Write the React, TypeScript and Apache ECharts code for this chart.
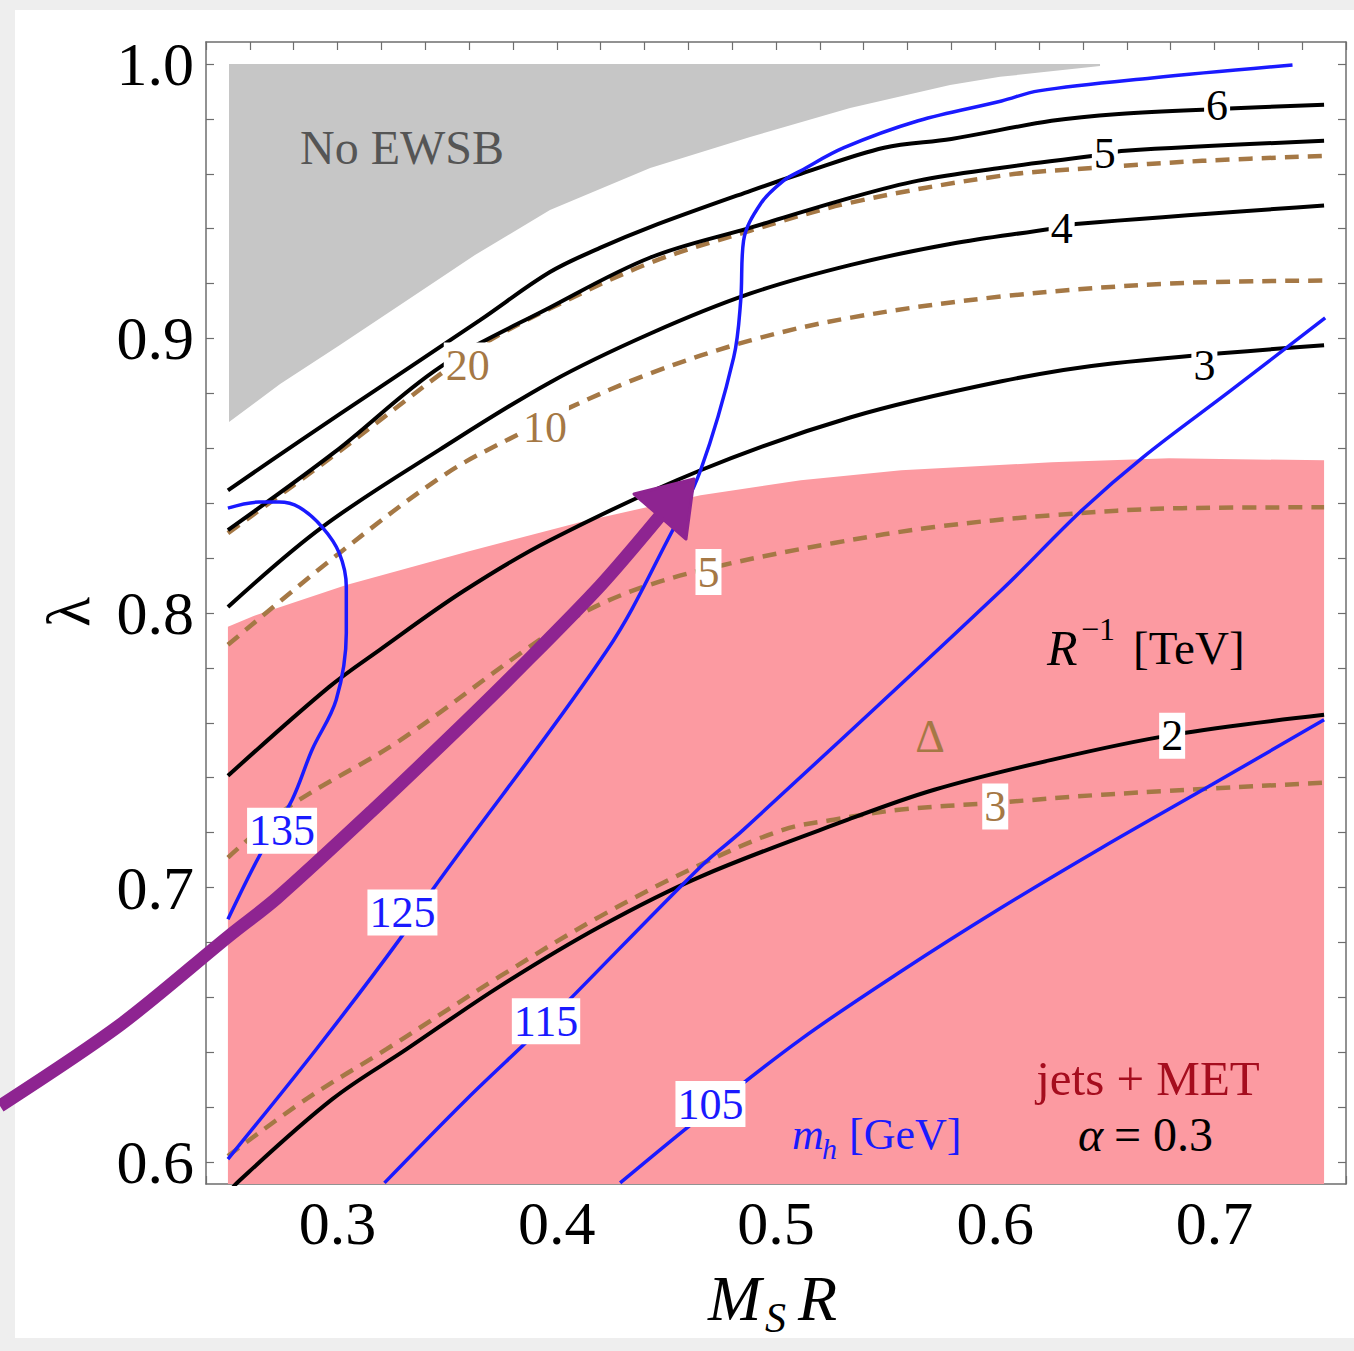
import React, { useEffect, useRef } from "react";
import * as echarts from "echarts";

const FONT = '"Liberation Serif", "Times New Roman", Times, serif';

// Axis ranges and ticks
const X_RANGE = [0.24, 0.76];
const Y_RANGE = [0.592, 1.008];
const X_MAJOR_TICKS = [0.3, 0.4, 0.5, 0.6, 0.7];
const X_MINOR_TICKS = [0.24, 0.26, 0.28, 0.3, 0.32, 0.34, 0.36, 0.38, 0.4, 0.42, 0.44, 0.46, 0.48, 0.5, 0.52, 0.54, 0.56, 0.58, 0.6, 0.62, 0.64, 0.66, 0.68, 0.7, 0.72, 0.74, 0.76];
const Y_MAJOR_TICKS = [0.6, 0.7, 0.8, 0.9, 1.0];
const Y_MINOR_TICKS = [0.6, 0.62, 0.64, 0.66, 0.68, 0.7, 0.72, 0.74, 0.76, 0.78, 0.8, 0.82, 0.84, 0.86, 0.88, 0.9, 0.92, 0.94, 0.96, 0.98, 1.0];

// Regions
const NO_EWSB_EDGE = [[0.2505, 0.8696], [0.2738, 0.8834], [0.3011, 0.8976], [0.3285, 0.9122], [0.3627, 0.9304], [0.3969, 0.9468], [0.4426, 0.9621], [0.4882, 0.9734], [0.5338, 0.984], [0.5794, 0.9923], [0.6022, 0.9953], [0.6478, 0.9993]];
const JETS_MET_EDGE = [[0.25, 0.795], [0.262, 0.799], [0.304, 0.8102], [0.36, 0.8225], [0.4106, 0.8331], [0.4656, 0.8429], [0.5113, 0.8484], [0.5571, 0.852], [0.6257, 0.8549], [0.6793, 0.8564], [0.75, 0.8556]];

// R^-1 [TeV] contours (black)
const R6 = [[0.25, 0.8447], [0.2829, 0.8627], [0.3194, 0.8823], [0.365, 0.9067], [0.3969, 0.9242], [0.4197, 0.933], [0.4426, 0.9406], [0.4884, 0.9538], [0.5113, 0.96], [0.5493, 0.9695], [0.58, 0.9727], [0.6257, 0.9793], [0.6564, 0.9818], [0.7012, 0.9836], [0.75, 0.9851]];
const R5 = [[0.25, 0.8302], [0.2985, 0.8585], [0.3466, 0.8895], [0.3969, 0.9113], [0.4427, 0.9295], [0.4884, 0.9404], [0.5342, 0.9513], [0.5649, 0.9575], [0.6029, 0.9622], [0.6441, 0.9665], [0.6592, 0.9684], [0.75, 0.972]];
const R4 = [[0.25, 0.8022], [0.293, 0.8313], [0.3466, 0.8595], [0.3969, 0.884], [0.4427, 0.9018], [0.4884, 0.9164], [0.5342, 0.9268], [0.58, 0.9345], [0.6257, 0.94], [0.6381, 0.9418], [0.75, 0.9484]];
const R3 = [[0.25, 0.7407], [0.2962, 0.7731], [0.3191, 0.7865], [0.3575, 0.808], [0.3969, 0.8265], [0.4656, 0.852], [0.5342, 0.8713], [0.6029, 0.8844], [0.6532, 0.8909], [0.75, 0.8975]];
const R2 = [[0.25, 0.588], [0.2541, 0.5924], [0.2976, 0.6229], [0.3315, 0.6411], [0.374, 0.664], [0.4198, 0.6858], [0.4656, 0.704], [0.5328, 0.7247], [0.5722, 0.7356], [0.6257, 0.7465], [0.6807, 0.7556], [0.75, 0.7629]];

// Δ contours (brown dashed)
const D20 = [[0.25, 0.8291], [0.2985, 0.8575], [0.3479, 0.8876], [0.3694, 0.8993], [0.3969, 0.9109], [0.4427, 0.9276], [0.4884, 0.9393], [0.5342, 0.9495], [0.6029, 0.9593], [0.6454, 0.9622], [0.6944, 0.9647], [0.75, 0.9665]];
const D10 = [[0.25, 0.7884], [0.3008, 0.8218], [0.3498, 0.8509], [0.3846, 0.866], [0.4061, 0.8749], [0.4427, 0.8873], [0.4884, 0.8993], [0.5342, 0.9076], [0.6029, 0.9153], [0.6793, 0.92], [0.75, 0.9211]];
const D5 = [[0.25, 0.7109], [0.2779, 0.7295], [0.3283, 0.7535], [0.3855, 0.7865], [0.4106, 0.7995], [0.4395, 0.8095], [0.4761, 0.8175], [0.5264, 0.8255], [0.5722, 0.8313], [0.6257, 0.8356], [0.6852, 0.8382], [0.75, 0.8385]];
const D3 = [[0.25, 0.6022], [0.2857, 0.6229], [0.3223, 0.6411], [0.374, 0.6676], [0.4198, 0.6895], [0.4656, 0.7084], [0.5035, 0.7211], [0.5264, 0.7247], [0.5571, 0.7284], [0.6006, 0.7309], [0.6487, 0.7338], [0.75, 0.7382]];

// m_h [GeV] contours (blue)
const MH135 = [[0.25, 0.8382], [0.2642, 0.8404], [0.2733, 0.8404], [0.2825, 0.8385], [0.293, 0.8313], [0.3008, 0.8218], [0.304, 0.8095], [0.304, 0.7927], [0.2994, 0.7684], [0.2884, 0.7502], [0.2793, 0.732], [0.2642, 0.7113], [0.25, 0.6884]];
const MH125 = [[0.25, 0.6011], [0.2903, 0.6411], [0.3283, 0.6811], [0.3434, 0.6993], [0.423, 0.7865], [0.4505, 0.8265], [0.4656, 0.852], [0.4807, 0.8931], [0.4839, 0.9138], [0.4852, 0.9356], [0.493, 0.9491], [0.5035, 0.9575], [0.5113, 0.9611], [0.531, 0.9695], [0.5649, 0.9793], [0.6029, 0.9865], [0.6198, 0.9902], [0.6715, 0.9949], [0.7356, 0.9996]];
const MH115 = [[0.3214, 0.5924], [0.3589, 0.6229], [0.3955, 0.6509], [0.4656, 0.7076], [0.4852, 0.7211], [0.6029, 0.8084], [0.6387, 0.8368], [0.6675, 0.8568], [0.7072, 0.8809], [0.7505, 0.9075]];
const MH105 = [[0.4289, 0.5924], [0.4655, 0.6164], [0.5113, 0.6447], [0.5571, 0.6695], [0.6029, 0.6927], [0.6486, 0.7145], [0.6989, 0.7375], [0.75, 0.7611]];

// Contour labels [x, y, text]
const R_LABELS = [[0.7012, 0.9847, "6"], [0.65, 0.9673, "5"], [0.6303, 0.94, "4"], [0.6954, 0.8902, "3"], [0.6807, 0.7553, "2"]];
const D_LABELS = [[0.3594, 0.8902, "20"], [0.3946, 0.8676, "10"], [0.4692, 0.8149, "5"], [0.6, 0.7295, "3"]];
const MH_LABELS = [[0.2747, 0.7207, "135"], [0.3296, 0.6909, "125"], [0.3951, 0.6513, "115"], [0.4701, 0.6211, "105"]];

// Hand-drawn arrow annotation (page pixels)
const ARROW_SHAFT_PX = [[0, 1106], [120, 1025], [229, 936], [277, 898], [373, 810], [460, 727], [520, 668], [600, 586], [660, 516]];
const ARROW_HEAD_PX = [[694, 479], [634, 494], [686, 539]];

const BLACK = "#000000";
const BROWN = "#a57845";
const BLUE = "#1a1aff";
const PINK = "#fc9aa1";
const GRAY = "#c6c6c6";
const PURPLE = "#8e2491";

function polygonSeries(points: number[][], fill: string, z: number) {
  return {
    type: "custom",
    data: points,
    z,
    silent: true,
    renderItem: (params: any, api: any) => {
      if (params.dataIndex !== 0) return null;
      return {
        type: "polygon",
        shape: { points: points.map((p) => api.coord(p)) },
        style: { fill },
      };
    },
  };
}

function contour(data: number[][], color: string, width: number, dash?: number[]) {
  return {
    type: "line",
    data,
    symbol: "none",
    showSymbol: false,
    smooth: 0.35,
    silent: true,
    z: 3,
    clip: true,
    lineStyle: { color, width, type: dash ? dash : "solid", cap: "butt", opacity: 1 },
  };
}

function labelSeries(items: any[], color: string) {
  return {
    type: "scatter",
    data: items.map(([x, y, t]) => ({ value: [x, y], name: t })),
    symbolSize: 1,
    itemStyle: { color: "rgba(0,0,0,0)", opacity: 1 },
    z: 6,
    silent: true,
    label: {
      show: true,
      position: "inside",
      formatter: "{b}",
      color,
      opacity: 1,
      fontFamily: FONT,
      fontSize: 44,
      lineHeight: 44,
      backgroundColor: "#ffffff",
      padding: [2, 2, 0, 2],
    },
  };
}

function txt(text: string, x: number, y: number, size: number, fill: string, opts: any = {}) {
  return {
    type: "text",
    x,
    y,
    z: 50,
    rotation: opts.rotation || 0,
    style: {
      text,
      fill,
      fontSize: size,
      fontFamily: FONT,
      fontStyle: opts.italic ? "italic" : "normal",
      align: opts.align || "left",
      textAlign: opts.align || "left",
      verticalAlign: "middle",
      textVerticalAlign: "middle",
    },
  };
}

function axisCommon(position: string, showLabels: boolean, isX: boolean) {
  return {
    type: "value",
    min: isX ? X_RANGE[0] : Y_RANGE[0],
    max: isX ? X_RANGE[1] : Y_RANGE[1],
    position,
    splitLine: { show: false },
    axisLine: { show: true, onZero: false, lineStyle: { color: "#6e6e6e", width: 1.5 } },
    axisTick: {
      show: true,
      inside: true,
      length: 8,
      customValues: isX ? X_MINOR_TICKS : Y_MINOR_TICKS,
      lineStyle: { color: "#6e6e6e", width: 1.2 },
    },
    axisLabel: {
      show: showLabels,
      customValues: isX ? X_MAJOR_TICKS : Y_MAJOR_TICKS,
      formatter: (v: number) => v.toFixed(1),
      fontSize: 62,
      fontFamily: FONT,
      color: "#000",
      margin: isX ? 8 : 12,
    },
  };
}

export default function App() {
  const ref = useRef<HTMLDivElement>(null);
  useEffect(() => {
    if (!ref.current) return;
    const chart = echarts.init(ref.current, undefined, { renderer: "svg" });
    const pinkPoly = [[0.25, Y_RANGE[0]], ...JETS_MET_EDGE, [0.75, Y_RANGE[0]]];
    const grayPoly = [[0.2505, 1.0], ...NO_EWSB_EDGE, [0.6478, 1.0]];
    chart.setOption({
      animation: false,
      textStyle: { fontFamily: FONT },
      grid: { left: 206, right: 8, top: 42, bottom: 167, containLabel: false },
      xAxis: [axisCommon("bottom", true, true), axisCommon("top", false, true)],
      yAxis: [axisCommon("left", true, false), axisCommon("right", false, false)],
      series: [
        polygonSeries(pinkPoly, PINK, 1),
        polygonSeries(grayPoly, GRAY, 1),
        contour(D20, BROWN, 4.5, [14, 9]),
        contour(D10, BROWN, 4.5, [14, 9]),
        contour(D5, BROWN, 4.5, [14, 9]),
        contour(D3, BROWN, 4.5, [14, 9]),
        contour(R6, BLACK, 4),
        contour(R5, BLACK, 4),
        contour(R4, BLACK, 4),
        contour(R3, BLACK, 4),
        contour(R2, BLACK, 4),
        contour(MH135, BLUE, 3.5),
        contour(MH125, BLUE, 3.5),
        contour(MH115, BLUE, 3.5),
        contour(MH105, BLUE, 3.5),
        labelSeries(R_LABELS, BLACK),
        labelSeries(D_LABELS, BROWN),
        labelSeries(MH_LABELS, BLUE),
      ],
      graphic: [
        txt("No EWSB", 402, 147, 48, "#555555", { align: "center" }),
        txt("R", 1047, 648, 50, BLACK, { italic: true }),
        txt("−1", 1081, 629, 32, BLACK),
        txt("[TeV]", 1133, 648, 47, BLACK),
        txt("Δ", 930, 736, 46, BROWN, { align: "center" }),
        txt("jets + MET", 1148, 1078, 49, "#a50d1e", { align: "center" }),
        txt("α", 1078, 1134, 48, BLACK, { italic: true }),
        txt("= 0.3", 1114, 1134, 48, BLACK),
        txt("m", 792, 1134, 44, BLUE, { italic: true }),
        txt("h", 822, 1148, 30, BLUE, { italic: true }),
        txt("[GeV]", 849, 1134, 44, BLUE),
        txt("M", 708, 1298, 64, BLACK, { italic: true }),
        txt("S", 765, 1318, 42, BLACK, { italic: true }),
        txt("R", 798, 1298, 64, BLACK, { italic: true }),
        txt("λ", 68, 612, 62, BLACK, { align: "center", rotation: Math.PI / 2 }),
        {
          type: "polyline",
          z: 100,
          shape: { points: ARROW_SHAFT_PX, smooth: 0.3 },
          style: { stroke: PURPLE, lineWidth: 13, fill: "none", lineJoin: "round", lineCap: "butt" },
        },
        {
          type: "polygon",
          z: 100,
          shape: { points: ARROW_HEAD_PX },
          style: { fill: PURPLE, stroke: PURPLE, lineWidth: 3, lineJoin: "round" },
        },
      ],
    });
    return () => chart.dispose();
  }, []);
  return (
    <div style={{ position: "fixed", left: 0, top: 0, width: 1354, height: 1351, background: "#eeeeee" }}>
      <div style={{ position: "absolute", left: 15, top: 10, width: 1339, height: 1328, background: "#ffffff" }} />
      <div ref={ref} style={{ position: "absolute", left: 0, top: 0, width: 1354, height: 1351 }} />
    </div>
  );
}
